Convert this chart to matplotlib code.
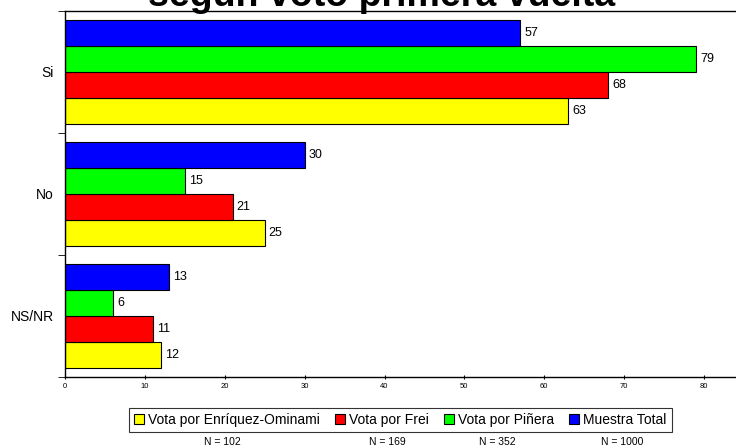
import matplotlib

matplotlib.use("Agg")
import matplotlib.pyplot as plt  # noqa: E402
import numpy as np  # noqa: E402

plt.rcParams["font.family"] = ["Liberation Sans", "DejaVu Sans"]

categories = ["Si", "No", "NS/NR"]
series = ["Vota por Enríquez-Ominami", "Vota por Frei", "Vota por Piñera", "Muestra Total"]
n_labels = ["N = 102", "N = 169", "N = 352", "N = 1000"]
enriquez = [63, 25, 12]
frei = [68, 21, 11]
pinera = [79, 15, 6]
total = [57, 30, 13]
colors = ["#ffff00", "#ff0000", "#00ff00", "#0000ff"]
xticks = [0, 10, 20, 30, 40, 50, 60, 70, 80]

fig = plt.figure(figsize=(7.36, 4.47), dpi=100)
ax = fig.add_axes([0.0883, 0.1566, 0.9117, 0.8188])

y = np.arange(len(categories))
h = 0.213
values = [enriquez, frei, pinera, total]
# yellow at bottom of each group, blue on top
offsets = [1.5, 0.5, -0.5, -1.5]
for vals, col, lab, off in zip(values, colors, series, offsets):
    bars = ax.barh(y + off * h, vals, h, color=col, edgecolor="black",
                   linewidth=0.8, label=lab)
    for b, v in zip(bars, vals):
        ax.text(b.get_width() + 0.5, b.get_y() + b.get_height() / 2, str(v),
                va="center", ha="left", fontsize=9)

ax.set_xlim(0, 84)
ax.set_ylim(2.5, -0.5)
ax.set_yticks(y)
ax.set_yticklabels(categories, fontsize=10)
ax.tick_params(axis="y", length=0, pad=8)
ax.set_yticks([-0.5, 0.5, 1.5, 2.5], minor=True)
ax.tick_params(axis="y", which="minor", length=5, direction="out")
ax.set_xticks(xticks)
ax.set_xticklabels([str(t) for t in xticks], fontsize=5.5)
ax.tick_params(axis="x", length=3, direction="inout", pad=3)
ax.spines["right"].set_visible(False)
for s in ["left", "top", "bottom"]:
    ax.spines[s].set_linewidth(1.0)

fig.text(0.519, 1 - 6 / 447, "según voto primera vuelta", ha="center",
         va="baseline", fontsize=27, fontweight="bold")

leg = fig.legend(loc="center", bbox_to_anchor=(0.544, 0.0604), ncol=4,
                 fontsize=10, frameon=True, fancybox=False, edgecolor="black",
                 handlelength=0.7, handleheight=0.7, handletextpad=0.3,
                 columnspacing=1.1, borderpad=0.35)
leg.get_frame().set_linewidth(0.8)

for lab, xp in zip(n_labels, [222, 387, 497, 622]):
    fig.text(xp / 736, 1 - 442 / 447, lab, ha="center", va="center", fontsize=7.5)

fig.savefig("out.png", dpi=100)
